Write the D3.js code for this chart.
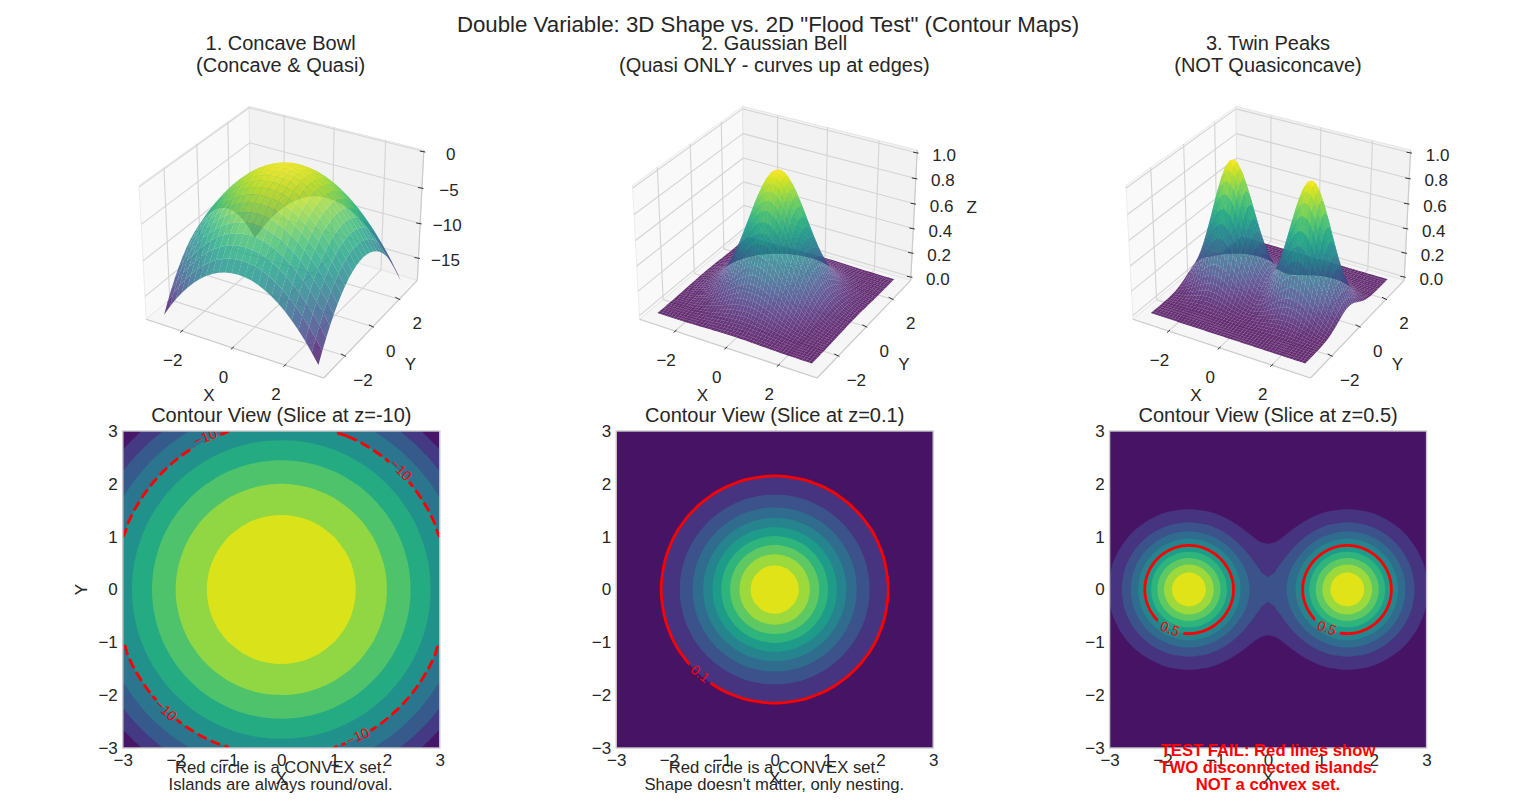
<!DOCTYPE html>
<html>
<head>
<meta charset="utf-8">
<script src="https://cdn.jsdelivr.net/npm/d3@7"></script>
<style>
body { margin: 0; background: #fff; }
text { font-family: "Liberation Sans", Arial, sans-serif; fill: #262626; }
</style>
</head>
<body>
<script>
// chart text
var mainTitle = 'Double Variable: 3D Shape vs. 2D "Flood Test" (Contour Maps)';
var topTitles = [["1. Concave Bowl", "(Concave & Quasi)"],
                 ["2. Gaussian Bell", "(Quasi ONLY - curves up at edges)"],
                 ["3. Twin Peaks", "(NOT Quasiconcave)"]];
var sliceTitles = ["Contour View (Slice at z=-10)", "Contour View (Slice at z=0.1)", "Contour View (Slice at z=0.5)"];
var notes = [["Red circle is a CONVEX set.", "Islands are always round/oval."],
             ["Red circle is a CONVEX set.", "Shape doesn't matter, only nesting."],
             ["TEST FAIL: Red lines show", "TWO disconnected islands.", "NOT a convex set."]];

// ticks
var gridTicks = [-2, 0, 2];
var sliceTicks = [-3, -2, -1, 0, 1, 2, 3];
var bowlZTicks = [0, -5, -10, -15];
var unitZTicks = [0, 0.2, 0.4, 0.6, 0.8, 1];

// contour levels
var bowlLevels = [-18, -16, -14, -12, -10, -8, -6, -4, -2, 0];
var unitLevels = [0, 0.1, 0.2, 0.3, 0.4, 0.5, 0.6, 0.7, 0.8, 0.9, 1];
var sliceLevels = [-10, 0.1, 0.5];

// contour label spots [x, y, rotation]
var bowlLabels = [[-1.44, 2.885, -23], [2.27, 2.265, 45], [-2.18, -2.28, 43], [1.446, -2.78, -25]];
var bellLabels = [[-1.41, -1.59, 38]];
var peakLabels = [[-1.854, -0.735, 20], [1.115, -0.724, 20]];

// surface heights, one quadrant from x,y = 0 to 3 (shapes are mirror symmetric)
var bowlZ = [
[0,-.06,-.25,-.56,-1,-1.56,-2.25,-3.06,-4,-5.06,-6.25,-7.56,-9],
[-.06,-.13,-.31,-.63,-1.06,-1.63,-2.31,-3.13,-4.06,-5.13,-6.31,-7.63,-9.06],
[-.25,-.31,-.5,-.81,-1.25,-1.81,-2.5,-3.31,-4.25,-5.31,-6.5,-7.81,-9.25],
[-.56,-.63,-.81,-1.13,-1.56,-2.13,-2.81,-3.63,-4.56,-5.63,-6.81,-8.13,-9.56],
[-1,-1.06,-1.25,-1.56,-2,-2.56,-3.25,-4.06,-5,-6.06,-7.25,-8.56,-10],
[-1.56,-1.63,-1.81,-2.13,-2.56,-3.13,-3.81,-4.63,-5.56,-6.63,-7.81,-9.13,-10.56],
[-2.25,-2.31,-2.5,-2.81,-3.25,-3.81,-4.5,-5.31,-6.25,-7.31,-8.5,-9.81,-11.25],
[-3.06,-3.13,-3.31,-3.63,-4.06,-4.63,-5.31,-6.13,-7.06,-8.13,-9.31,-10.63,-12.06],
[-4,-4.06,-4.25,-4.56,-5,-5.56,-6.25,-7.06,-8,-9.06,-10.25,-11.56,-13],
[-5.06,-5.13,-5.31,-5.63,-6.06,-6.63,-7.31,-8.13,-9.06,-10.13,-11.31,-12.63,-14.06],
[-6.25,-6.31,-6.5,-6.81,-7.25,-7.81,-8.5,-9.31,-10.25,-11.31,-12.5,-13.81,-15.25],
[-7.56,-7.63,-7.81,-8.13,-8.56,-9.13,-9.81,-10.63,-11.56,-12.63,-13.81,-15.13,-16.56],
[-9,-9.06,-9.25,-9.56,-10,-10.56,-11.25,-12.06,-13,-14.06,-15.25,-16.56,-18]];
var bellZ = [
[1,.992,.969,.932,.883,.823,.755,.682,.607,.531,.458,.389,.325,.267,.216,.172,.135,.105,.08,.06,.044,.032,.023,.016,.011],
[.992,.984,.962,.925,.876,.816,.749,.677,.602,.527,.454,.386,.322,.265,.215,.171,.134,.104,.079,.059,.044,.032,.023,.016,.011],
[.969,.962,.939,.903,.855,.797,.732,.661,.588,.515,.444,.377,.315,.259,.21,.167,.131,.101,.077,.058,.043,.031,.022,.016,.011],
[.932,.925,.903,.869,.823,.767,.704,.636,.565,.495,.427,.362,.303,.249,.202,.161,.126,.097,.074,.056,.041,.03,.021,.015,.01],
[.883,.876,.855,.823,.779,.726,.666,.602,.535,.469,.404,.343,.287,.236,.191,.152,.119,.092,.07,.053,.039,.028,.02,.014,.01],
[.823,.816,.797,.767,.726,.677,.621,.561,.499,.437,.377,.32,.267,.22,.178,.142,.111,.086,.065,.049,.036,.026,.019,.013,.009],
[.755,.749,.732,.704,.666,.621,.57,.515,.458,.401,.346,.293,.245,.202,.163,.13,.102,.079,.06,.045,.033,.024,.017,.012,.008],
[.682,.677,.661,.636,.602,.561,.515,.465,.414,.362,.312,.265,.221,.182,.147,.118,.092,.071,.054,.041,.03,.022,.016,.011,.008],
[.607,.602,.588,.565,.535,.499,.458,.414,.368,.322,.278,.236,.197,.162,.131,.105,.082,.063,.048,.036,.027,.019,.014,.01,.007],
[.531,.527,.515,.495,.469,.437,.401,.362,.322,.282,.243,.206,.172,.142,.115,.092,.072,.056,.042,.032,.023,.017,.012,.008,.006],
[.458,.454,.444,.427,.404,.377,.346,.312,.278,.243,.21,.178,.149,.122,.099,.079,.062,.048,.036,.027,.02,.015,.01,.007,.005],
[.389,.386,.377,.362,.343,.32,.293,.265,.236,.206,.178,.151,.126,.104,.084,.067,.053,.041,.031,.023,.017,.012,.009,.006,.004],
[.325,.322,.315,.303,.287,.267,.245,.221,.197,.172,.149,.126,.105,.087,.07,.056,.044,.034,.026,.019,.014,.01,.007,.005,.004],
[.267,.265,.259,.249,.236,.22,.202,.182,.162,.142,.122,.104,.087,.071,.058,.046,.036,.028,.021,.016,.012,.009,.006,.004,.003],
[.216,.215,.21,.202,.191,.178,.163,.147,.131,.115,.099,.084,.07,.058,.047,.037,.029,.023,.017,.013,.009,.007,.005,.003,.002],
[.172,.171,.167,.161,.152,.142,.13,.118,.105,.092,.079,.067,.056,.046,.037,.03,.023,.018,.014,.01,.008,.005,.004,.003,.002],
[.135,.134,.131,.126,.119,.111,.102,.092,.082,.072,.062,.053,.044,.036,.029,.023,.018,.014,.011,.008,.006,.004,.003,.002,.002],
[.105,.104,.101,.097,.092,.086,.079,.071,.063,.056,.048,.041,.034,.028,.023,.018,.014,.011,.008,.006,.005,.003,.002,.002,.001],
[.08,.079,.077,.074,.07,.065,.06,.054,.048,.042,.036,.031,.026,.021,.017,.014,.011,.008,.006,.005,.003,.003,.002,.001,.001],
[.06,.059,.058,.056,.053,.049,.045,.041,.036,.032,.027,.023,.019,.016,.013,.01,.008,.006,.005,.004,.003,.002,.001,.001,.001],
[.044,.044,.043,.041,.039,.036,.033,.03,.027,.023,.02,.017,.014,.012,.009,.008,.006,.005,.003,.003,.002,.001,.001,.001,0],
[.032,.032,.031,.03,.028,.026,.024,.022,.019,.017,.015,.012,.01,.009,.007,.005,.004,.003,.003,.002,.001,.001,.001,.001,0],
[.023,.023,.022,.021,.02,.019,.017,.016,.014,.012,.01,.009,.007,.006,.005,.004,.003,.002,.002,.001,.001,.001,.001,0,0],
[.016,.016,.016,.015,.014,.013,.012,.011,.01,.008,.007,.006,.005,.004,.003,.003,.002,.002,.001,.001,.001,.001,0,0,0],
[.011,.011,.011,.01,.01,.009,.008,.008,.007,.006,.005,.004,.004,.003,.002,.002,.002,.001,.001,.001,0,0,0,0,0]];
var peakZ = [
[.211,.222,.256,.312,.386,.476,.576,.68,.781,.87,.94,.985,1,.985,.939,.869,.779,.677,.57,.465,.368,.282,.21,.151,.105],
[.208,.219,.252,.307,.38,.469,.567,.67,.769,.856,.925,.97,.985,.969,.925,.855,.767,.666,.561,.458,.362,.278,.206,.149,.104],
[.198,.209,.241,.293,.363,.447,.541,.639,.733,.817,.883,.925,.939,.925,.882,.816,.732,.636,.535,.437,.346,.265,.197,.142,.099],
[.183,.193,.223,.271,.336,.413,.501,.591,.678,.756,.817,.856,.869,.855,.816,.755,.677,.588,.495,.404,.32,.245,.182,.131,.092],
[.164,.173,.2,.243,.301,.371,.449,.53,.608,.677,.732,.767,.779,.767,.732,.677,.607,.527,.444,.362,.287,.22,.163,.118,.082],
[.143,.15,.173,.211,.261,.322,.39,.46,.528,.589,.636,.666,.677,.666,.636,.588,.527,.458,.386,.315,.249,.191,.142,.102,.071],
[.12,.127,.146,.178,.22,.271,.328,.388,.445,.496,.536,.561,.57,.561,.535,.495,.444,.386,.325,.265,.21,.161,.119,.086,.06],
[.098,.103,.119,.145,.18,.221,.268,.316,.363,.404,.437,.458,.465,.458,.437,.404,.362,.315,.265,.216,.171,.131,.097,.07,.049],
[.078,.082,.094,.115,.142,.175,.212,.25,.287,.32,.346,.362,.368,.362,.346,.32,.287,.249,.21,.171,.135,.104,.077,.056,.039],
[.059,.063,.072,.088,.109,.134,.162,.192,.22,.245,.265,.278,.282,.278,.265,.245,.22,.191,.161,.131,.104,.08,.059,.043,.03],
[.044,.047,.054,.065,.081,.1,.121,.143,.164,.182,.197,.206,.21,.206,.197,.182,.163,.142,.119,.097,.077,.059,.044,.032,.022],
[.032,.034,.039,.047,.058,.072,.087,.103,.118,.131,.142,.149,.151,.149,.142,.131,.118,.102,.086,.07,.056,.043,.032,.023,.016],
[.022,.023,.027,.033,.041,.05,.061,.072,.082,.092,.099,.104,.105,.104,.099,.092,.082,.071,.06,.049,.039,.03,.022,.016,.011],
[.015,.016,.018,.022,.028,.034,.041,.048,.056,.062,.067,.07,.071,.07,.067,.062,.056,.048,.041,.033,.026,.02,.015,.011,.007],
[.01,.01,.012,.015,.018,.022,.027,.032,.037,.041,.044,.046,.047,.046,.044,.041,.036,.032,.027,.022,.017,.013,.01,.007,.005],
[.006,.007,.008,.009,.011,.014,.017,.02,.023,.026,.028,.029,.03,.029,.028,.026,.023,.02,.017,.014,.011,.008,.006,.004,.003],
[.004,.004,.005,.006,.007,.009,.011,.012,.014,.016,.017,.018,.018,.018,.017,.016,.014,.012,.01,.009,.007,.005,.004,.003,.002],
[.002,.002,.003,.003,.004,.005,.006,.007,.009,.009,.01,.011,.011,.011,.01,.009,.008,.007,.006,.005,.004,.003,.002,.002,.001],
[.001,.001,.002,.002,.002,.003,.004,.004,.005,.005,.006,.006,.006,.006,.006,.005,.005,.004,.004,.003,.002,.002,.001,.001,.001],
[.001,.001,.001,.001,.001,.002,.002,.002,.003,.003,.003,.004,.004,.004,.003,.003,.003,.002,.002,.002,.001,.001,.001,.001,0],
[0,0,0,.001,.001,.001,.001,.001,.001,.002,.002,.002,.002,.002,.002,.002,.001,.001,.001,.001,.001,.001,0,0,0],
[0,0,0,0,0,0,.001,.001,.001,.001,.001,.001,.001,.001,.001,.001,.001,.001,.001,0,0,0,0,0,0],
[0,0,0,0,0,0,0,0,0,0,0,.001,.001,.001,0,0,0,0,0,0,0,0,0,0,0],
[0,0,0,0,0,0,0,0,0,0,0,0,0,0,0,0,0,0,0,0,0,0,0,0,0],
[0,0,0,0,0,0,0,0,0,0,0,0,0,0,0,0,0,0,0,0,0,0,0,0,0]];

var svg = d3.select("body").append("svg")
    .attr("width", 1536)
    .attr("height", 802)
    .style("display", "block");

function heightAt(q, ix, iy) { return q[Math.abs(iy)][Math.abs(ix)]; }

svg.append("text").attr("x", 768).attr("y", 32).attr("text-anchor", "middle")
    .style("font-size", "22.25px").text(mainTitle);

// ---------- 3D surfaces ----------
var edgeLim = 3.44;
var boxX = d3.scaleLinear().domain([-edgeLim, edgeLim]).range([-0.6536, 0.6536]);

function drawSurface(n, q, zTicks, zLim, zFormat, showZLabel) {
  var x0 = 284.5 + 493.4 * n, y0 = 235;
  var boxZ = d3.scaleLinear().domain(zLim).range([-0.4902, 0.4902]);
  var g = svg.append("g");
  var lo = zLim[0], hi = zLim[1], L = edgeLim;
  var half = q.length - 1, gridStep = 3 / half;

  // elev 30, azim -60 camera
  function project(x, y, z) {
    var dx = boxX(x), dy = boxX(y), dz = boxZ(z);
    var u = 0.866 * dx + 0.5 * dy,
        v = -0.25 * dx + 0.433 * dy + 0.866 * dz,
        w = 0.433 * dx - 0.75 * dy + 0.5 * dz;
    var k = 1555 / (10 - w);
    return [x0 + u * k, y0 - v * k, w];
  }
  var line = d3.line();
  function poly(pts, fill, stroke) {
    g.append("path").attr("d", line(pts.map(function(p) { return project(p[0], p[1], p[2]); })) + "Z")
      .attr("fill", fill).attr("stroke", stroke).attr("stroke-width", 1);
  }
  function seg(a, b, color, width) {
    var p = project(a[0], a[1], a[2]), r = project(b[0], b[1], b[2]);
    g.append("line").attr("x1", p[0]).attr("y1", p[1]).attr("x2", r[0]).attr("y2", r[1])
      .attr("stroke", color).attr("stroke-width", width);
  }

  // panes
  poly([[-L,-L,lo],[-L,L,lo],[-L,L,hi],[-L,-L,hi]], "#f9f9f9", "#ececec");
  poly([[-L,L,lo],[L,L,lo],[L,L,hi],[-L,L,hi]], "#f2f2f2", "#e6e6e6");
  poly([[-L,-L,lo],[L,-L,lo],[L,L,lo],[-L,L,lo]], "#f6f6f6", "#e6e6e6");

  // grid lines
  gridTicks.forEach(function(t) {
    seg([t,-L,lo],[t,L,lo], "#d4d4d4", 1.1);
    seg([t,L,lo],[t,L,hi], "#d4d4d4", 1.1);
    seg([-L,t,lo],[L,t,lo], "#d4d4d4", 1.1);
    seg([-L,t,lo],[-L,t,hi], "#d4d4d4", 1.1);
  });
  zTicks.forEach(function(t) {
    seg([-L,-L,t],[-L,L,t], "#d4d4d4", 1.1);
    seg([-L,L,t],[L,L,t], "#d4d4d4", 1.1);
  });

  // axis lines
  seg([-L,-L,lo],[L,-L,lo], "#cccccc", 1.2);
  seg([L,-L,lo],[L,L,lo], "#cccccc", 1.2);
  seg([L,L,lo],[L,L,hi], "#cccccc", 1.2);

  // tick marks and labels
  function tick(p, t0, t1, label, off) {
    g.append("line").attr("x1", p[0] + t0[0]).attr("y1", p[1] + t0[1])
      .attr("x2", p[0] + t1[0]).attr("y2", p[1] + t1[1])
      .attr("stroke", "#333").attr("stroke-width", 1);
    g.append("text").attr("x", p[0] + off[0]).attr("y", p[1] + off[1] + 6)
      .attr("text-anchor", "middle").style("font-size", "17px").text(label);
  }
  var fmtD = d3.format("d"), fmtZ = d3.format(zFormat);
  gridTicks.forEach(function(t) {
    tick(project(t, -L, lo), [-1.5, 1.5], [1.5, -1], fmtD(t), [-9, 29]);
    tick(project(L, t, lo), [-4, -2], [1, 0.5], fmtD(t), [18, 24]);
  });
  zTicks.forEach(function(t) {
    tick(project(L, L, t), [-4, -0.5], [1.5, 0.5], fmtZ(t), [27, 2]);
  });

  g.append("text").attr("x", x0 - 75.5).attr("y", 401).attr("text-anchor", "middle")
    .style("font-size", "17px").text("X");
  g.append("text").attr("x", x0 + 126).attr("y", 370).attr("text-anchor", "middle")
    .style("font-size", "17px").text("Y");
  if (showZLabel) {
    g.append("text").attr("x", x0 + 193.7).attr("y", 213).attr("text-anchor", "middle")
      .style("font-size", "17px").text("Z");
  }

  // surface cells, far ones first
  var all = d3.merge(q);
  var color = d3.scaleSequential(d3.interpolateViridis).domain(d3.extent(all));
  var cells = [];
  for (var iy = -half; iy < half; iy++) {
    for (var ix = -half; ix < half; ix++) {
      var corners = [[ix, iy], [ix + 1, iy], [ix + 1, iy + 1], [ix, iy + 1]].map(function(c) {
        return [c[0] * gridStep, c[1] * gridStep, heightAt(q, c[0], c[1])];
      });
      var pr = corners.map(function(p) { return project(p[0], p[1], p[2]); });
      cells.push({ pts: pr, depth: d3.mean(pr, function(p) { return p[2]; }),
                   z: d3.mean(corners, function(p) { return p[2]; }) });
    }
  }
  cells.sort(function(a, b) { return a.depth - b.depth; });
  g.append("g").selectAll("path")
    .data(cells)
    .enter()
    .append("path")
      .attr("d", function(d) { return line(d.pts.map(function(p) { return [p[0], p[1]]; })) + "Z"; })
      .attr("fill", function(d) { return color(d.z); })
      .attr("fill-opacity", 0.82);
}

// ---------- contour maps ----------
var sliceSize = 317;
function drawSlice(n, q, levels, slice, labels, dashed) {
  var left = 122.8 + 493.4 * n, top = 431;
  var half = q.length - 1, gridStep = 3 / half, side = 2 * half + 1;
  var x = d3.scaleLinear().domain([-3, 3]).range([0, sliceSize]);
  var y = d3.scaleLinear().domain([-3, 3]).range([sliceSize, 0]);
  var g = svg.append("g").attr("transform", "translate(" + left + "," + top + ")");

  var values = [];
  for (var iy = -half; iy <= half; iy++) {
    for (var ix = -half; ix <= half; ix++) values.push(heightAt(q, ix, iy));
  }
  var contours = d3.contours().size([side, side]);
  var smooth = d3.line().curve(d3.curveCatmullRomClosed.alpha(0.5));
  // grid value i sits at contour coordinate i + 0.5
  function ringPath(geom) {
    return geom.coordinates.map(function(poly) {
      return poly.map(function(ring) {
        return smooth(ring.slice(0, -1).map(function(c) {
          return [x((c[0] - 0.5 - half) * gridStep), y((c[1] - 0.5 - half) * gridStep)];
        }));
      }).join("");
    }).join("");
  }

  g.append("clipPath").attr("id", "clip" + n).append("rect")
    .attr("width", sliceSize).attr("height", sliceSize);
  var body = g.append("g").attr("clip-path", "url(#clip" + n + ")");

  var lo = levels[0], hi = levels[levels.length - 1];
  var bandColor = function(i) { return d3.interpolateViridis(((levels[i] + levels[i + 1]) / 2 - lo) / (hi - lo)); };
  body.append("rect").attr("width", sliceSize).attr("height", sliceSize).attr("fill", bandColor(0));
  levels.slice(1, -1).forEach(function(t, i) {
    body.append("path").attr("d", ringPath(contours.thresholds([t])(values)[0]))
      .attr("fill", bandColor(i + 1)).attr("fill-rule", "evenodd");
  });

  // red slice line, broken where its labels sit
  var mask = g.append("mask").attr("id", "gap" + n).attr("maskUnits", "userSpaceOnUse")
    .attr("x", 0).attr("y", 0).attr("width", sliceSize).attr("height", sliceSize);
  mask.append("rect").attr("width", sliceSize).attr("height", sliceSize).attr("fill", "#fff");
  labels.forEach(function(d) {
    mask.append("rect").attr("x", -14).attr("y", -8).attr("width", 28).attr("height", 16).attr("fill", "#000")
      .attr("transform", "translate(" + x(d[0]) + "," + y(d[1]) + ")rotate(" + d[2] + ")");
  });
  body.append("path").attr("d", ringPath(contours.thresholds([slice])(values)[0]))
    .attr("fill", "none").attr("stroke", "#ff0000").attr("stroke-width", 2.78)
    .attr("stroke-dasharray", dashed ? "10.3,4.4" : null)
    .attr("mask", "url(#gap" + n + ")");
  var fmt = d3.format(slice < 0 ? "d" : ".1f");
  body.selectAll(".clabel").data(labels).enter().append("text")
    .attr("class", "clabel")
    .attr("transform", function(d) { return "translate(" + x(d[0]) + "," + y(d[1]) + ")rotate(" + d[2] + ")"; })
    .attr("text-anchor", "middle").attr("dy", "0.36em")
    .style("font-size", "13.9px").style("fill", "#ff0000")
    .text(fmt(slice));

  // axes
  var xAxis = g.append("g").attr("transform", "translate(0," + sliceSize + ")")
    .call(d3.axisBottom(x).tickValues(sliceTicks).tickSize(0).tickPadding(6).tickFormat(d3.format("d")));
  var yAxis = g.append("g")
    .call(d3.axisLeft(y).tickValues(sliceTicks).tickSize(0).tickPadding(5).tickFormat(d3.format("d")));
  [xAxis, yAxis].forEach(function(a) {
    a.select(".domain").remove();
    a.selectAll("text").style("font-size", "17px").style("font-family", "Liberation Sans");
  });
  g.append("rect").attr("width", sliceSize).attr("height", sliceSize)
    .attr("fill", "none").attr("stroke", "#cccccc").attr("stroke-width", 1.4);

  g.append("text").attr("x", sliceSize / 2).attr("y", -9).attr("text-anchor", "middle")
    .style("font-size", "20px").text(sliceTitles[n]);
  g.append("text").attr("x", sliceSize / 2).attr("y", 353).attr("text-anchor", "middle")
    .style("font-size", "17px").text("X");
  if (n === 0) {
    g.append("text").attr("transform", "translate(-36," + sliceSize / 2 + ")rotate(-90)")
      .attr("text-anchor", "middle").style("font-size", "17px").text("Y");
  }
}

drawSurface(0, bowlZ, bowlZTicks, [-18.3, 0.2], "d", false);
drawSurface(1, bellZ, unitZTicks, [-0.03, 1.02], ".1f", true);
drawSurface(2, peakZ, unitZTicks, [-0.03, 1.02], ".1f", false);

drawSlice(0, bowlZ, bowlLevels, sliceLevels[0], bowlLabels, true);
drawSlice(1, bellZ, unitLevels, sliceLevels[1], bellLabels, false);
drawSlice(2, peakZ, unitLevels, sliceLevels[2], peakLabels, false);

// panel titles and notes go last, they sit over the axes
topTitles.forEach(function(lines, n) {
  var cx = 280.6 + 493.7 * n;
  lines.forEach(function(s, i) {
    svg.append("text").attr("x", cx).attr("y", 50 + 22 * i).attr("text-anchor", "middle")
      .style("font-size", "20px").text(s);
  });
});
notes.forEach(function(lines, n) {
  var cx = 280.6 + 493.7 * n, fail = lines.length === 3;
  lines.forEach(function(s, i) {
    svg.append("text").attr("x", cx).attr("y", 790 - 17 * (lines.length - 1 - i)).attr("text-anchor", "middle")
      .style("font-size", "16.67px")
      .style("font-weight", fail ? "bold" : "normal")
      .style("fill", fail ? "#ff0000" : "#262626")
      .text(s);
  });
});
</script>
</body>
</html>
